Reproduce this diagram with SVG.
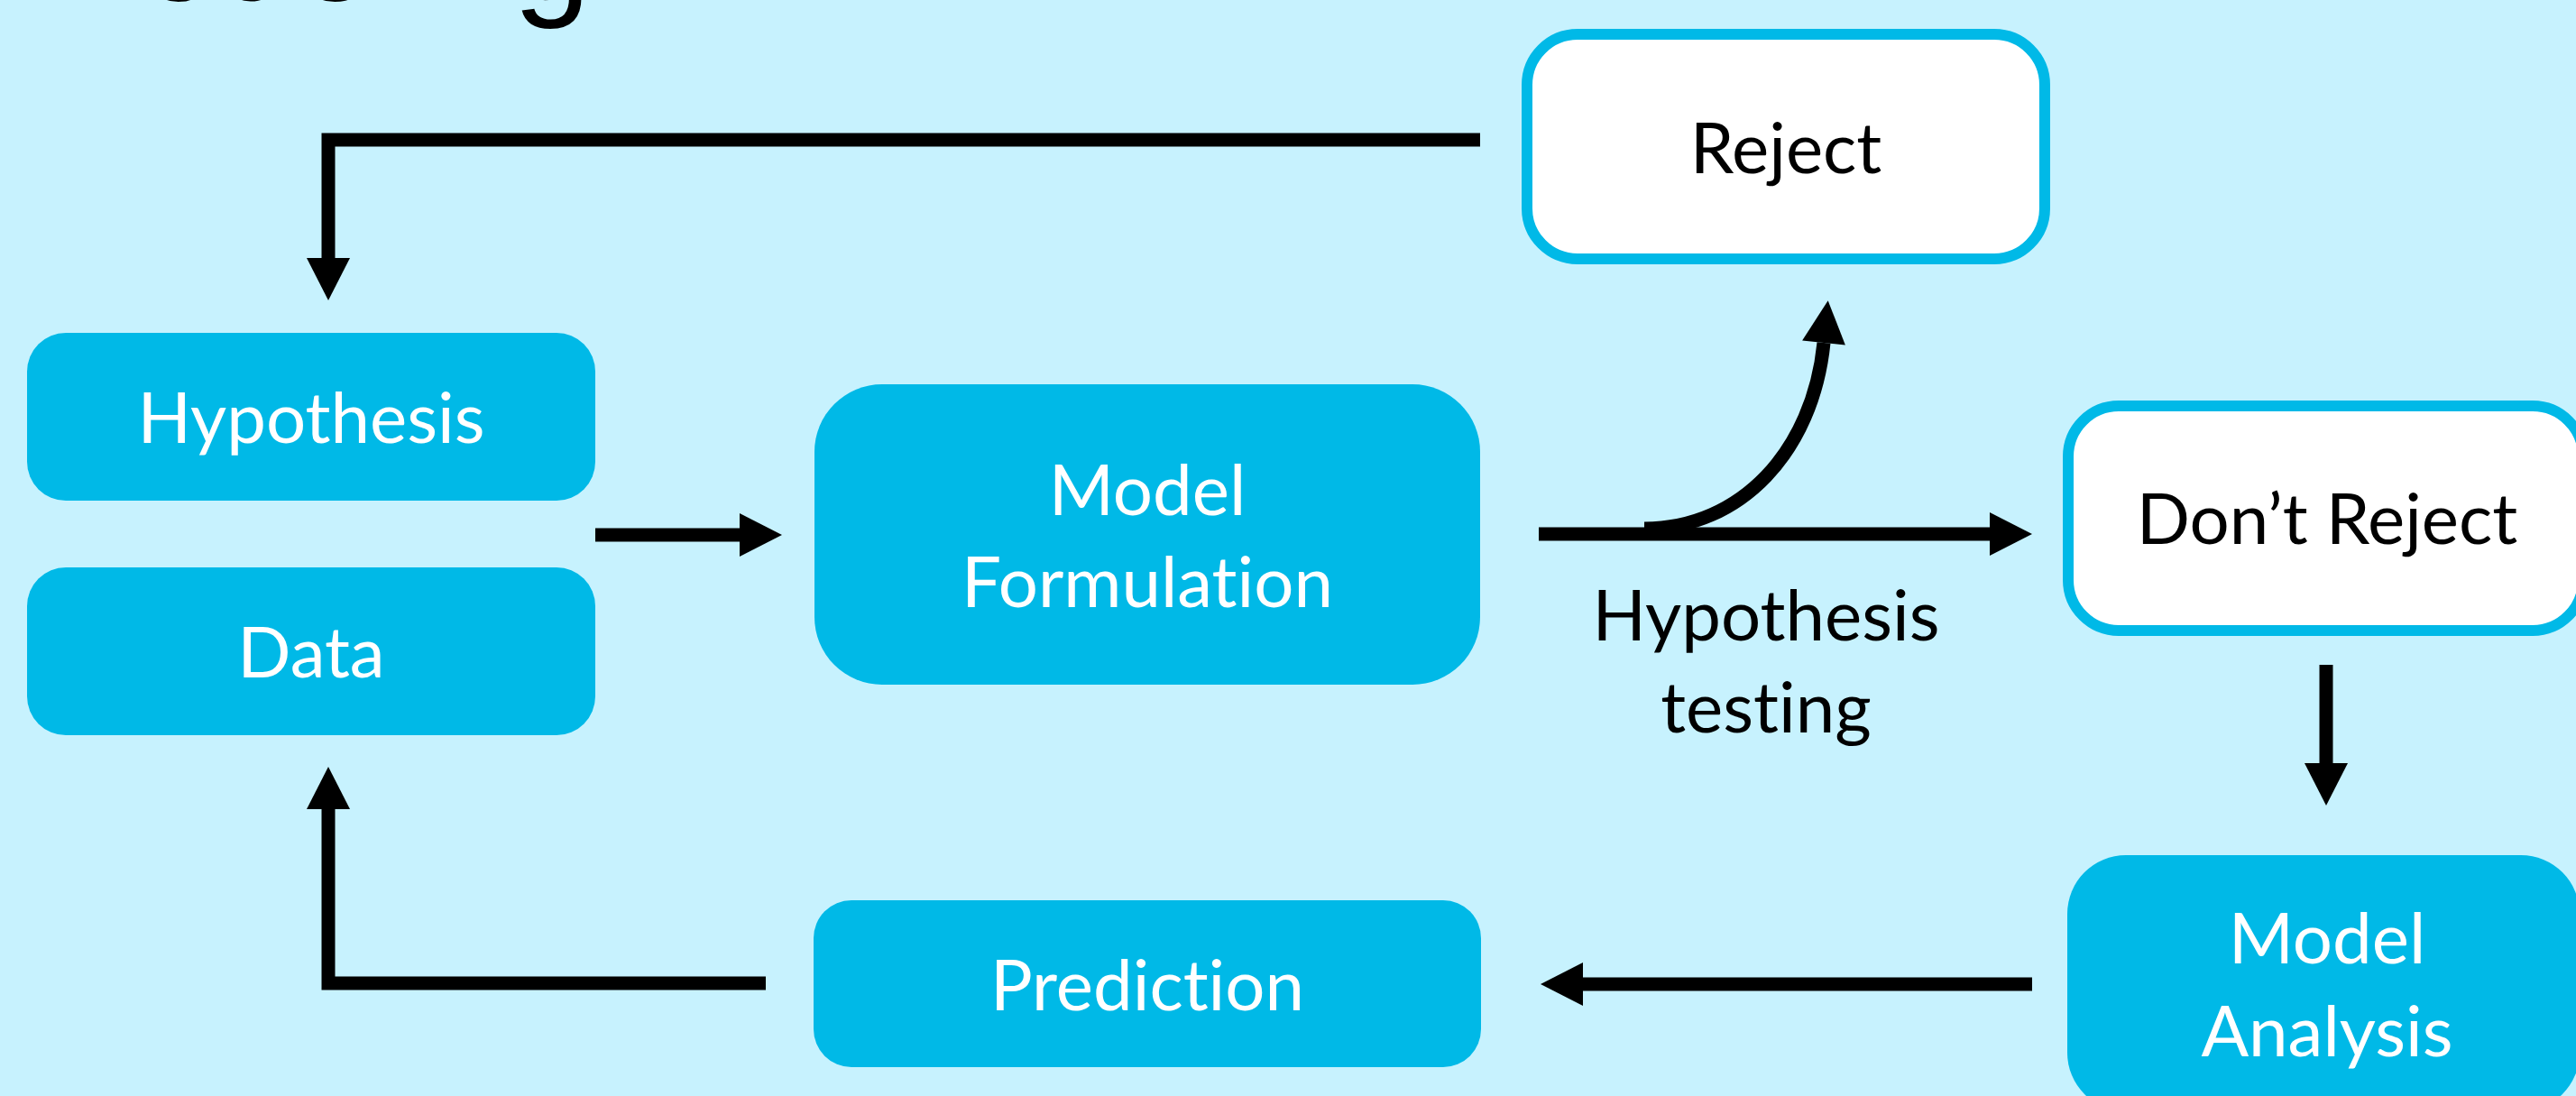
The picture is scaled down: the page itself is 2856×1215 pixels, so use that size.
<svg xmlns="http://www.w3.org/2000/svg" width="2856" height="1215" viewBox="0 0 2856 1215">
  <style>
    text { font-variant-ligatures: none; font-feature-settings: "liga" 0, "clig" 0; }
    .box { fill: #00B9E7; }
    .obox { fill: #FFFFFF; stroke: #00B9E7; stroke-width: 12; }
    .wt { font-family: Lato, "Open Sans", sans-serif; font-size: 78px; fill: #FFFFFF; text-anchor: middle; }
    .bt { font-family: Lato, "Open Sans", sans-serif; font-size: 78px; fill: #000000; text-anchor: middle; }
    .conn { fill: none; stroke: #000000; stroke-width: 15; stroke-linejoin: miter; stroke-linecap: butt; marker-end: url(#ah); }
    .title { font-family: "Liberation Sans", Arial, sans-serif; font-size: 155px; fill: #000000; }
  </style>
  <defs>
    <marker id="ah" markerUnits="userSpaceOnUse" markerWidth="48" markerHeight="48" refX="0" refY="24" orient="auto" viewBox="0 0 47 48" overflow="visible">
      <path d="M0,0 L47,24 L0,48 Z" fill="#000000"/>
    </marker>
  </defs>

  <rect x="0" y="0" width="2856" height="1215" fill="#C7F2FE"/>

  <text class="title" x="26" y="0">Modeling</text>

  <g id="connectors">
    <path class="conn" d="M1641,155 H364 V286"/>
    <path class="conn" d="M660,593 H820"/>
    <path class="conn" d="M1706,592 H2206"/>
    <path class="conn" d="M1823,586 C1930,586 2010,500 2022,380"/>
    <path class="conn" d="M2579,737 V846"/>
    <path class="conn" d="M2253,1091 H1755"/>
    <path class="conn" d="M849,1090 H364 V897"/>
    <text class="bt" x="1958" y="710">Hypothesis</text>
    <text class="bt" x="1958" y="812">testing</text>
  </g>

  <g id="hypothesis">
    <rect class="box" x="30" y="369" width="630" height="186" rx="43"/>
    <text class="wt" x="345" y="491">Hypothesis</text>
  </g>

  <g id="data">
    <rect class="box" x="30" y="629" width="630" height="186" rx="43"/>
    <text class="wt" x="345" y="751">Data</text>
  </g>

  <g id="model-formulation">
    <rect class="box" x="903" y="426" width="738" height="333" rx="75"/>
    <text class="wt" x="1272" y="571">Model</text>
    <text class="wt" x="1272" y="673">Formulation</text>
  </g>

  <g id="reject">
    <rect class="obox" x="1693" y="38" width="574" height="249" rx="56"/>
    <text class="bt" x="1980" y="192">Reject</text>
  </g>

  <g id="dont-reject">
    <rect class="obox" x="2293" y="450" width="571" height="249" rx="56"/>
    <text class="bt" x="2580" y="603">Don’t Reject</text>
  </g>

  <g id="model-analysis">
    <rect class="box" x="2292" y="948" width="568" height="284" rx="65"/>
    <text class="wt" x="2580" y="1068">Model</text>
    <text class="wt" x="2580" y="1171">Analysis</text>
  </g>

  <g id="prediction">
    <rect class="box" x="902" y="998" width="740" height="185" rx="42"/>
    <text class="wt" x="1272" y="1120">Prediction</text>
  </g>
</svg>
